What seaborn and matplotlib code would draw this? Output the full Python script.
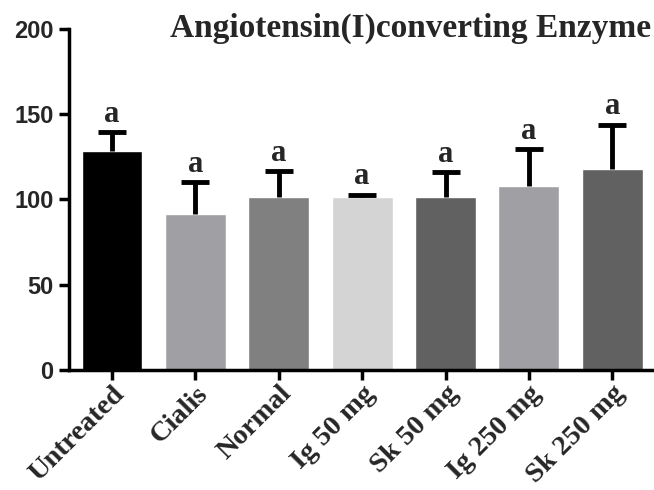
import numpy as np
import pandas as pd
import matplotlib
matplotlib.use('Agg')
import matplotlib.pyplot as plt
import seaborn as sns

# --- data ---
groups = ['Untreated', 'Cialis', 'Normal', 'Ig 50 mg', 'Sk 50 mg', 'Ig 250 mg', 'Sk 250 mg']
means = [128.3, 91.5, 101.3, 101.2, 101.7, 108.0, 117.8]
sd = [11.2, 18.5, 15.4, 1.5, 14.2, 21.5, 26.0]
letters = ['a', 'a', 'a', 'a', 'a', 'a', 'a']
bar_colors = ['#000000', '#a0a0a4', '#808080', '#d4d4d4', '#616161', '#a0a0a4', '#616161']

df = pd.DataFrame({'group': groups, 'value': means})

sns.set_style('ticks')
serif = ['Liberation Serif', 'DejaVu Serif']
sans = ['Liberation Sans', 'DejaVu Sans']

fig = plt.figure(figsize=(6.54, 4.9), dpi=100)
ax = fig.add_axes([0.105, 0.245, 0.895, 0.696])

sns.barplot(data=df, x='group', y='value', hue='group', palette=bar_colors,
            legend=False, width=0.73, saturation=1, ax=ax, errorbar=None)

# upper-only SD bars
x = np.arange(len(groups))
eb = ax.errorbar(x, means, yerr=[np.zeros(len(sd)), sd], fmt='none', ecolor='black',
                 elinewidth=3.5, capsize=10, capthick=3.5, zorder=5)
eb[1][0].set_visible(False)  # hide the lower caps

for xi, m, s, lab in zip(x, means, sd, letters):
    ax.text(xi, m + s + 2.0, lab, ha='center', va='bottom', fontsize=22,
            fontweight='bold', family=serif)

ax.set_xlim(-0.52, 6.5)
ax.set_ylim(0, 200)
ax.set_yticks([0, 50, 100, 150, 200])
ax.set_xlabel('')
ax.set_ylabel('')

for lbl in ax.get_yticklabels():
    lbl.set_fontsize(17)
    lbl.set_fontweight('bold')
    lbl.set_family(sans)

ax.set_xticks(x)
ax.set_xticklabels(groups, rotation=45, ha='right', rotation_mode='anchor',
                   fontsize=20.5, fontweight='bold', family=serif)

ax.tick_params(axis='both', width=2.5, length=7, direction='out', color='black')
ax.tick_params(axis='y', pad=4)
ax.tick_params(axis='x', pad=1)
sns.despine(ax=ax)
for sp in ['left', 'bottom']:
    ax.spines[sp].set_linewidth(2.5)
    ax.spines[sp].set_color('black')

fig.text(0.996, 1 - 37 / 490, 'Angiotensin(I)converting Enzyme', ha='right', va='baseline',
         fontsize=24, fontweight='bold', family=serif)

fig.savefig('out.png', dpi=100)
